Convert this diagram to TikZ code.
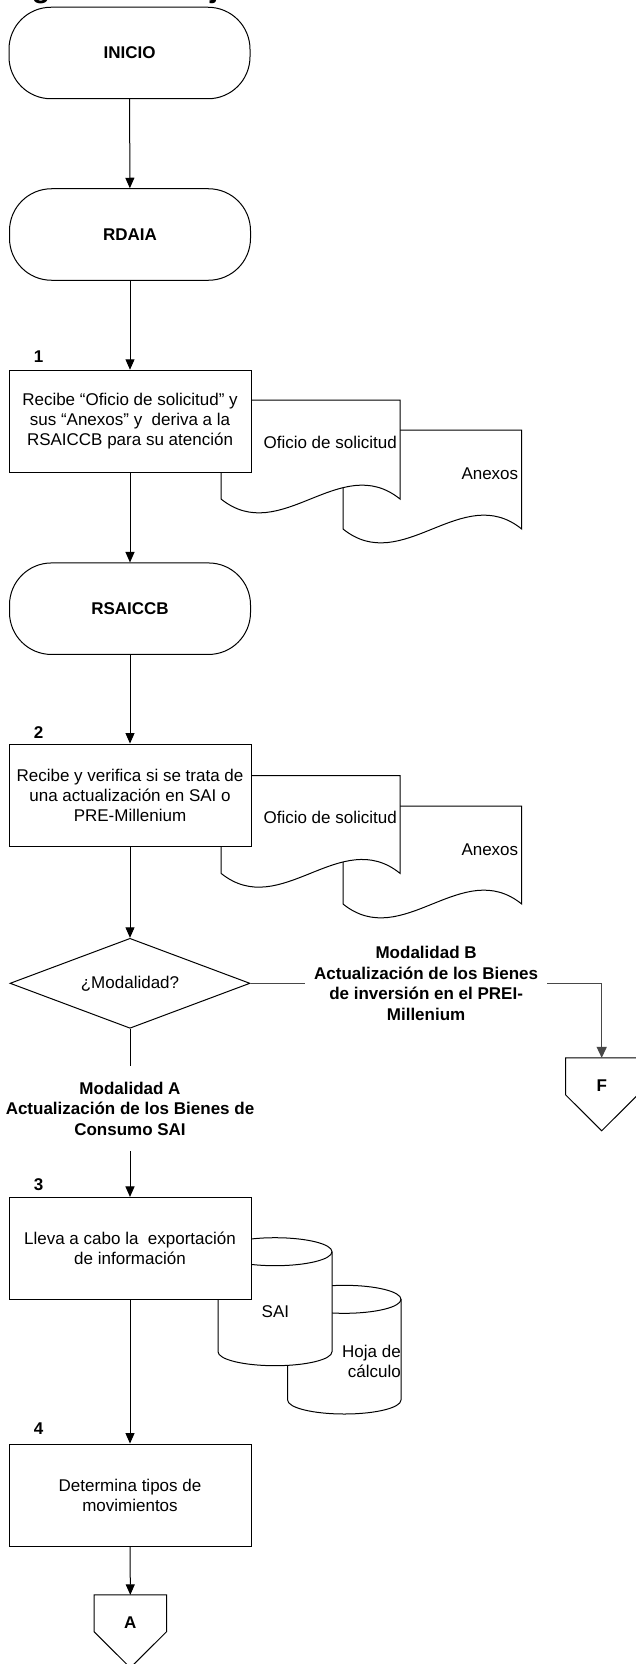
\documentclass[tikz,border=0pt]{standalone}
\usepackage{fontspec}
\setmainfont{Liberation Sans}
\usetikzlibrary{arrows.meta,shapes.geometric}
\newcommand\docshape[4]{% x, top y, width, height of straight side
  \draw[line width=1pt, fill=white] (#1,#2) -- ({#1+#3},#2) -- ({#1+#3},{#2+#4})
    .. controls ({#1+#3-#3/3},{#2+#4-48}) and ({#1+#3/3},{#2+#4+48}) .. (#1,{#2+#4}) -- cycle;}
\newcommand\cylshape[4]{% x left, y top-ellipse centre, width, side length
  \draw[line width=1pt, fill=white] (#1,#2) -- (#1,{#2+#4})
    arc[start angle=180,end angle=0,x radius={#3/2},y radius=14] -- ({#1+#3},#2)
    arc[start angle=0,end angle=-180,x radius={#3/2},y radius=14] -- cycle;
  \draw[line width=1pt] (#1,#2) arc[start angle=180,end angle=0,x radius={#3/2},y radius=14];}
\tikzset{
  txt/.style={font=\fontsize{17}{20}\selectfont, inner sep=0pt, align=center},
  btxt/.style={font=\fontsize{17}{20.5}\selectfont\bfseries, inner sep=0pt, align=center},
  term/.style={draw, line width=1pt, fill=white, rounded corners=42pt, minimum width=241pt,
    minimum height=91.5pt, inner sep=0pt, font=\fontsize{17}{20}\selectfont\bfseries},
  proc/.style={draw, line width=1pt, fill=white, minimum width=242pt, minimum height=102.5pt,
    inner sep=0pt, align=center, font=\fontsize{17}{20}\selectfont},
  decis/.style={draw, diamond, aspect=2.667, line width=1pt, fill=white, minimum width=240pt,
    minimum height=90pt, inner sep=0pt, font=\fontsize{17}{20}\selectfont},
  offp/.style={minimum width=72pt, minimum height=36.5pt, inner sep=0pt},
  conn/.style={line width=1pt, -{Triangle[length=10.5pt,width=9pt]}},
  connB/.style={line width=1.5pt, draw=black!72, -{Triangle[length=11pt,width=10pt,fill=black!72]}},
  lab/.style={btxt, fill=white},
}
\begin{document}
\begin{tikzpicture}[x=1pt,y=-1pt]
\useasboundingbox (0,0) rectangle (635,1664);
\fill[white] (0,0) rectangle (635,1664);
% cut-off heading
\begin{scope}
  \clip (0,0) rectangle (635,1664);
  \node[anchor=base west, inner sep=0pt, font=\fontsize{30}{36}\selectfont\bfseries] (title) at (-15,-2) {Diagrama de flujo};
\end{scope}

% terminators
\node[term] (inicio) at (129.5,53) {INICIO};
\node[term] (rdaia) at (130,234.5) {RDAIA};

% step 1
\docshape{343}{430}{178.7}{99}
\docshape{221}{400}{179}{99}
\node[txt, anchor=east] (of1) at (397,442) {Oficio de solicitud};
\node[txt, anchor=east] (an1) at (518.4,474) {Anexos};
\node[proc] (b1) at (130,421.5) {Recibe “Oficio de solicitud” y\\sus “Anexos” y\ \ deriva a la\\RSAICCB para su atención};
\node[btxt] (n1) at (38.5,356.7) {1};

\node[term] (rsaiccb) at (130,608.7) {RSAICCB};

% step 2
\docshape{343}{806}{178.7}{98}
\docshape{221}{775.7}{179}{97.6}
\node[txt, anchor=east] (of2) at (397,817.5) {Oficio de solicitud};
\node[txt, anchor=east] (an2) at (518.4,850) {Anexos};
\node[proc] (b2) at (130,795.3) {Recibe y verifica si se trata de\\una actualización en SAI o\\PRE-Millenium};
\node[btxt] (n2) at (38.5,732.3) {2};

% decision
\node[decis] (dec) at (130,983.3) {¿Modalidad?};

% off-page connector F
\node[offp] (F) at (601.7,1076.3) {};
\draw[line width=1pt, fill=white] (F.north west) -- (F.north east) -- (F.south east)
  -- ([yshift=-36pt]F.south) -- (F.south west) -- cycle;
\node[btxt] (Ft) at ([yshift=-9pt]F.center) {F};

% step 3
\cylshape{287.6}{1299.3}{113.4}{100.7}
\cylshape{218}{1251.7}{114}{100}
\node[txt] (sai) at (275.4,1311.7) {SAI};
\node[txt, anchor=east, align=right] (hoja) at (401,1361) {Hoja de\\cálculo};
\node[proc] (b3) at (130,1248.7) {Lleva a cabo la\ \ exportación\\de información};
\node[btxt] (n3) at (38.5,1185) {3};

% step 4
\node[proc] (b4) at (130,1495.3) {Determina tipos de\\movimientos};
\node[btxt] (n4) at (38.5,1428.5) {4};

% off-page connector A
\node[offp] (A) at (130.3,1613.3) {};
\draw[line width=1pt, fill=white] (A.north west) -- (A.north east) -- (A.south east)
  -- ([yshift=-36pt]A.south) -- (A.south west) -- cycle;
\node[btxt] (At) at ([yshift=-9.5pt]A.center) {A};

% connectors
\draw[conn] (inicio) -- (rdaia);
\draw[conn] (rdaia) -- (b1);
\draw[conn] (b1) -- (rsaiccb);
\draw[conn] (rsaiccb) -- (b2);
\draw[conn] (b2) -- (dec);
\draw[connB] (dec.east) -| node[lab, pos=0.25, inner xsep=9pt, inner ysep=2pt] (labB)
  {Modalidad B\\Actualización de los Bienes\\de inversión en el PREI-\\Millenium} (F.north);
\draw[conn] (dec.south) -- node[lab, pos=0.475, inner xsep=4pt, inner ysep=15.5pt] (labA)
  {Modalidad A\\Actualización de los Bienes de\\Consumo SAI} (b3.north);
\draw[conn] (b3) -- (b4);
\draw[conn] (b4) -- (A.north);
\end{tikzpicture}
\end{document}
